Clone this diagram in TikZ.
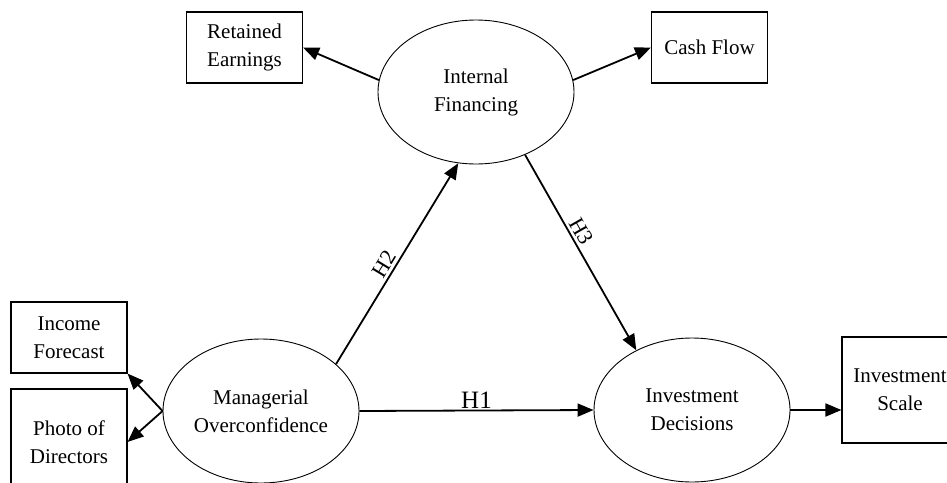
\documentclass[tikz,border=0pt]{standalone}
\usepackage{fontspec}
\setmainfont{Liberation Serif}
\usetikzlibrary{shapes.geometric,arrows.meta}
\begin{document}
\begin{tikzpicture}[x=1pt,y=-1pt,
  every node/.style={font=\fontsize{21}{28}\selectfont, align=center},
  latent/.style={ellipse, draw, line width=0.9pt, minimum width=196pt, minimum height=144pt, inner sep=0pt},
  obsbox/.style={rectangle, draw, line width=1.1pt, minimum width=116pt, inner sep=0pt},
  path/.style={line width=1.8pt, -{Triangle[length=16pt,width=13pt]}},
  hlab/.style={font=\fontsize{22}{24}\selectfont, inner sep=3pt}
]
\useasboundingbox (0,0) rectangle (947,482);
\clip (0,0) rectangle (947,482);

% latent variables
\node[latent] (IF) at (476,92) {Internal\\Financing};
\node[latent] (MO) at (261,411) {Managerial\\Overconfidence};
\node[latent] (ID) at (692,410) {Investment\\Decisions};

% observed indicators
\node[obsbox, minimum height=71pt] (RE) at (244.5,47.5) {Retained\\Earnings};
\node[obsbox, minimum height=71pt] (CF) at (709.5,47.5) {Cash Flow};
\node[obsbox, minimum height=71pt] (INF) at (69,337.5) {Income\\Forecast};
\node[obsbox, minimum height=106pt] (PD) at (69,442) {Photo of\\Directors};
\node[obsbox, minimum height=106pt] (IS) at (900,390) {Investment\\Scale};

% measurement arrows
\draw[path] (IF.173) -- (RE.east);
\draw[path] (IF.7) -- (CF.west);
\draw[path] (MO.west) -- (INF.south east);
\draw[path] (MO.west) -- (PD.east);
\draw[path] (ID.east) -- (ID.east -| IS.west);

% structural paths
\draw[path] (MO.32) -- node[hlab, sloped, above, pos=0.47] {H2} (IF.256);
\draw[path] (IF.-52) -- node[hlab, sloped, above, pos=0.42] {H3} (ID.133);
\draw[path] (MO.east) -- node[font=\fontsize{25}{28}\selectfont, above, inner sep=1.5pt, pos=0.5] {H1} (ID.west);
\end{tikzpicture}
\end{document}
